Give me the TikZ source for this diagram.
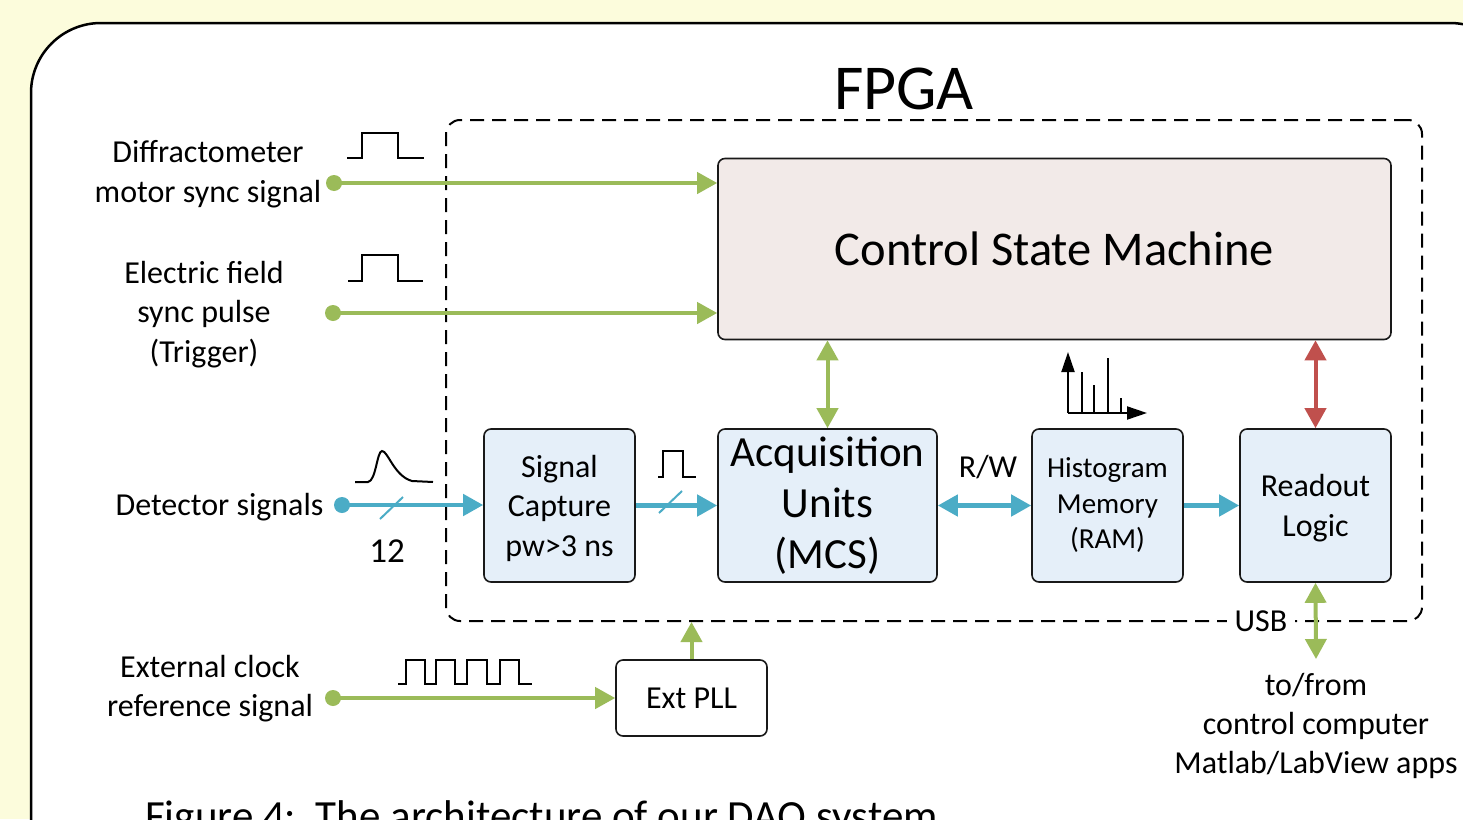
\documentclass[tikz,border=0pt]{standalone}
\usepackage{fontspec}
\setmainfont{Carlito}
\usetikzlibrary{arrows.meta}
\definecolor{bgyellow}{RGB}{252,252,220}
\definecolor{gline}{RGB}{155,187,89}
\definecolor{bline}{RGB}{75,172,198}
\definecolor{rline}{RGB}{192,80,77}
\definecolor{boxblue}{RGB}{229,239,249}
\definecolor{boxpink}{RGB}{242,234,232}
\newcommand{\fsz}[2]{\fontsize{#1}{#2}\selectfont}
\begin{document}
\begin{tikzpicture}[x=1pt,y=-1pt,
  blk/.style={draw=black!90, line width=1.6pt, rounded corners=7pt, fill=boxblue, align=center, inner sep=2pt},
  lbl/.style={anchor=base, inner sep=0pt, font=\fsz{32}{40}},
  gar/.style={draw=gline, line width=4pt, -{Triangle[length=20pt,width=21pt]}},
  gdar/.style={draw=gline, line width=4pt, {Triangle[length=20pt,width=21pt]}-{Triangle[length=20pt,width=21pt]}},
  bar/.style={draw=bline, line width=4.5pt, -{Triangle[length=20pt,width=21pt]}},
  bdar/.style={draw=bline, line width=4.5pt, {Triangle[length=20pt,width=21pt]}-{Triangle[length=20pt,width=21pt]}},
  rdar/.style={draw=rline, line width=4pt, {Triangle[length=20pt,width=21pt]}-{Triangle[length=20pt,width=21pt]}},
  gdot/.style={circle, fill=gline, minimum size=16pt, inner sep=0pt},
  bdot/.style={circle, fill=bline, minimum size=16pt, inner sep=0pt},
  wave/.style={draw=black, line width=2pt, line join=miter},
  slash/.style={draw=bline, line width=2pt},
  hax/.style={draw=black, line width=2pt, -{Triangle[length=20pt,width=13pt]}}
]
\useasboundingbox (0,0) rectangle (1463,819);
\clip (0,0) rectangle (1463,819);
\fill[bgyellow] (0,0) rectangle (1463,819);
\draw[fill=white, line width=2.5pt, rounded corners=70pt] (31,23) rectangle (1520,900);

% FPGA region
\node[draw=black, line width=2pt, dash pattern=on 14pt off 8pt, rounded corners=14pt,
      minimum width=976pt, minimum height=501pt, inner sep=0pt] (fpga) at (934,370.5) {};
\node[anchor=base, inner sep=0pt, font=\fsz{64}{64}] (fpgat) at (904,109) {FPGA};
\node[fill=white, inner xsep=8pt, inner ysep=2pt, font=\fsz{32}{32}] (usb) at (1261,621) {USB};

% Blocks
\node[blk, fill=boxpink, minimum width=673pt, minimum height=181pt, font=\fsz{48.5}{48.5}] (csm) at (1054.5,249) {Control State Machine};
\node[blk, minimum width=151pt, minimum height=153pt, font=\fsz{32}{39.5}] (sc) at (559.5,505.5) {\strut Signal\\Capture\\pw>3 ns};
\node[blk, minimum width=219pt, minimum height=153pt, font=\fsz{43}{51}] (acq) at (827.5,505.5) {Acquisition\\Units\\(MCS)};
\node[blk, minimum width=151pt, minimum height=153pt, font=\fsz{29}{35.5}] (hist) at (1107.5,505.5) {Histogram\\Memory\\(RAM)};
\node[blk, minimum width=151pt, minimum height=153pt, font=\fsz{32}{39.5}] (ro) at (1315.5,505.5) {\strut Readout\\Logic};
\node[blk, fill=white, minimum width=151pt, minimum height=76pt, font=\fsz{32}{32}] (pll) at (691.5,698) {Ext PLL};

% Left labels
\node[lbl] (l1a) at (208,162) {Diffractometer};
\node[lbl] (l1b) at (208,202) {motor sync signal};
\node[lbl] (l2a) at (204,283) {Electric field};
\node[lbl] (l2b) at (204,322) {sync pulse};
\node[lbl] (l2c) at (204,362) {(Trigger)};
\node[lbl] (l3) at (219.5,515) {Detector signals};
\node[lbl] (l4a) at (210,677) {External clock};
\node[lbl] (l4b) at (210,716) {reference signal};
\node[lbl, font=\fsz{35}{35}] (n12) at (387,562) {12};
\node[lbl] (rw) at (988,477) {R/W};
\node[lbl] (c1) at (1316,695) {to/from};
\node[lbl] (c2) at (1316,734) {control computer};
\node[lbl] (c3) at (1316,773) {Matlab/LabView apps};
\node[anchor=base west, inner sep=0pt, font=\fsz{43}{43}] (cap) at (145,830) {Figure 4:\ \ The architecture of our DAQ system};

% Dots
\node[gdot] (dm) at (334,183) {};
\node[gdot] (dt) at (333,313) {};
\node[bdot] (dd) at (342,505) {};
\node[gdot] (dc) at (333,698) {};
\coordinate (usbend) at (1316,659);

% Connectors
\draw[gar] (dm.center) -- (dm -| csm.west);
\draw[gar] (dt.center) -- (dt -| csm.west);
\draw[bar] (dd.center) -- (dd -| sc.west);
\draw[bar] (sc.east) -- (acq.west);
\draw[bdar] (acq.east) -- (hist.west);
\draw[bar] (hist.east) -- (ro.west);
\draw[gdar] (acq.north) -- (acq.north |- csm.south);
\draw[rdar] (ro.north) -- (ro.north |- csm.south);
\draw[gdar] (ro.south) -- (usbend);
\draw[gar] (dc.center) -- (dc -| pll.west);
\draw[gar] (pll.north) -- (pll.north |- fpga.south);

% Bus slashes
\draw[slash] (380,519) -- (403,497);
\draw[slash] (659,513) -- (682,491);

% Waveforms
\draw[wave] (347,158) -- (362,158) -- (362,133) -- (398,133) -- (398,158) -- (424,158);
\draw[wave] (348,281) -- (362,281) -- (362,255) -- (398,255) -- (398,281) -- (423,281);
\draw[wave] (355,482) -- (368,482) .. controls (376,481) and (377,451) .. (382,451)
            .. controls (388,451) and (394,476) .. (412,481) -- (433,482);
\draw[wave] (658,477) -- (663,477) -- (663,451) -- (683,451) -- (683,477) -- (696,477);
\draw[wave] (398,684) -- (406,684) -- (406,660) -- (425,660) -- (425,684) -- (436,684)
            -- (436,660) -- (455,660) -- (455,684) -- (467,684) -- (467,660) -- (487,660)
            -- (487,684) -- (500,684) -- (500,660) -- (519,660) -- (519,684) -- (532,684);

% Histogram icon
\coordinate (ho) at (1068,413);
\draw[hax] (ho) -- (1068,352);
\draw[hax] (ho) -- (1147,413);
\draw[line width=2pt] (1082,413) -- (1082,372) (1094,413) -- (1094,385)
      (1108,413) -- (1108,358) (1121,413) -- (1121,398);
\end{tikzpicture}
\end{document}
